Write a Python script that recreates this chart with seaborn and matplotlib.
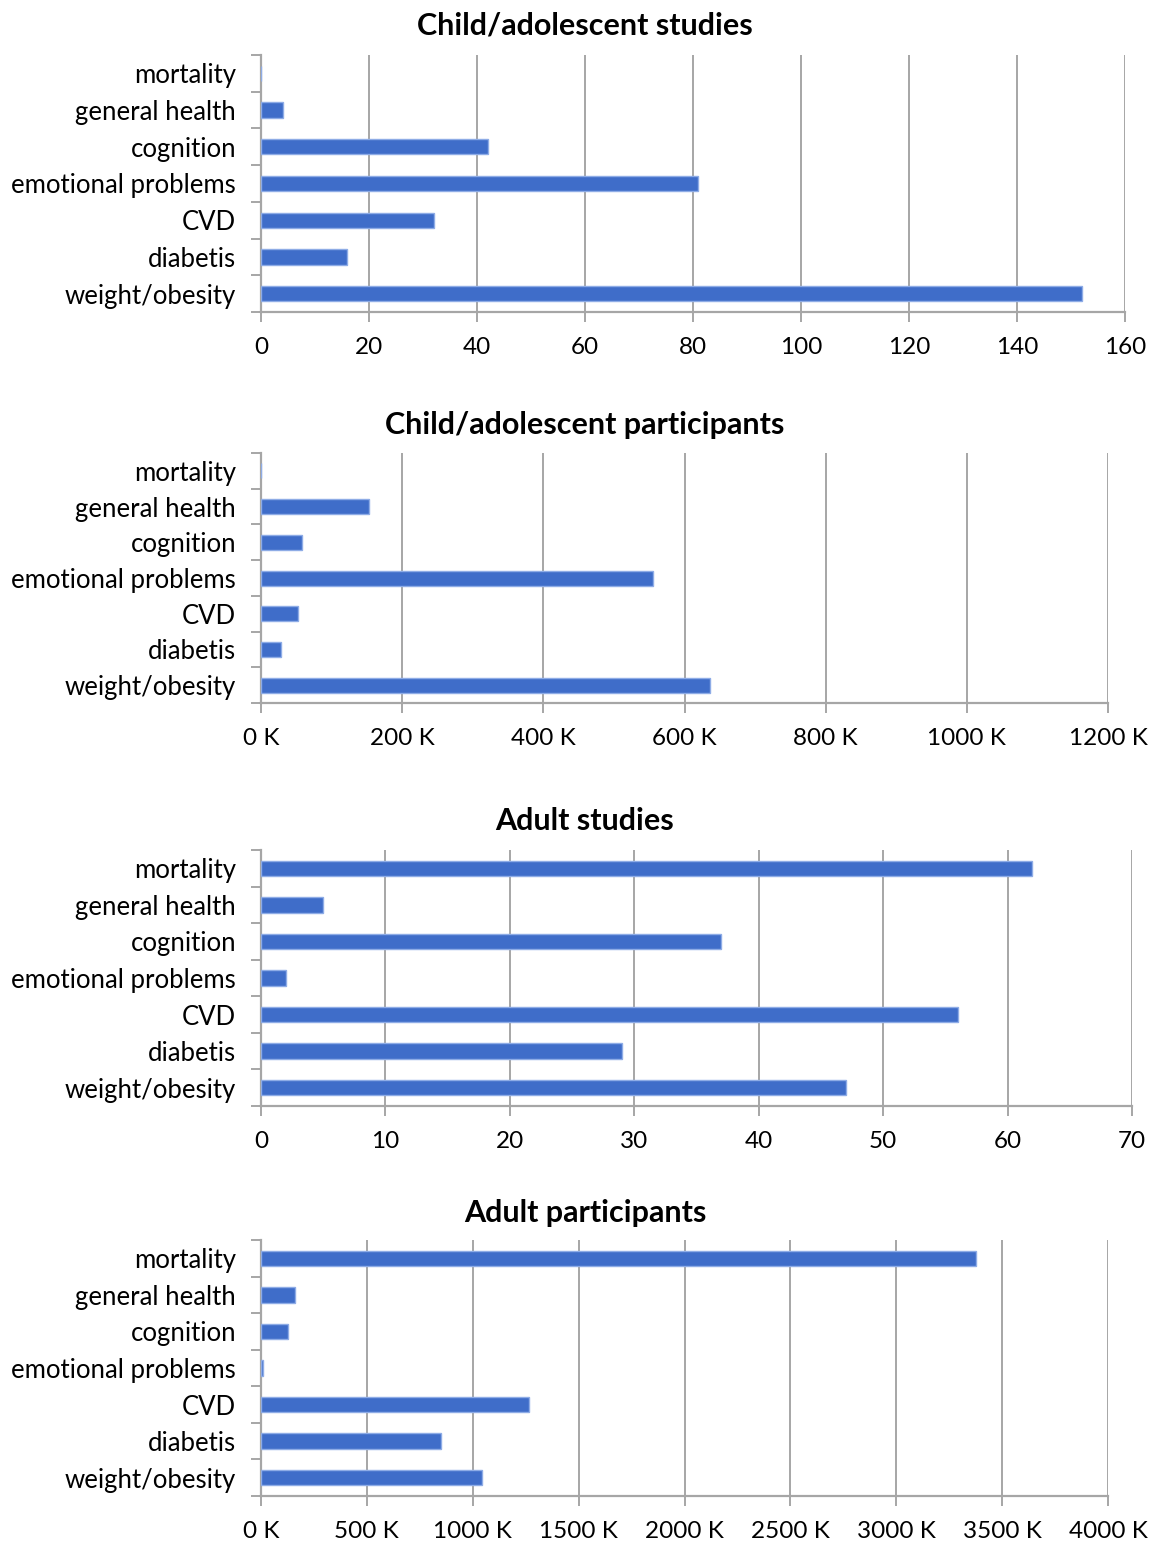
import matplotlib
matplotlib.use("Agg")
import matplotlib.pyplot as plt
from matplotlib.ticker import FuncFormatter, FixedLocator
import seaborn as sns
import pandas as pd

sns.set_theme(style="white")
plt.rcParams["font.family"] = ["Lato", "DejaVu Sans"]

categories = ["mortality", "general health", "cognition", "emotional problems",
              "CVD", "diabetis", "weight/obesity"]

child_studies = [0, 4, 42, 81, 32, 16, 152]
child_participants_k = [0, 153, 58, 555, 52, 28, 636]
adult_studies = [62, 5, 37, 2, 56, 29, 47]
adult_participants_k = [3376, 162, 127, 8, 1264, 850, 1042]

panels = [
    ("Child/adolescent studies", child_studies, 160, 20, False,
     (261, 55, 1125, 312), 25),
    ("Child/adolescent participants", child_participants_k, 1200, 200, True,
     (261, 453, 1108, 703), 425),
    ("Adult studies", adult_studies, 70, 10, False,
     (261, 850, 1132, 1106), 821),
    ("Adult participants", adult_participants_k, 4000, 500, True,
     (261, 1240, 1108, 1496), 1213),
]

W, H = 1153, 1543
fig = plt.figure(figsize=(W / 100, H / 100), dpi=100)

grid_col = "#A6A6A6"
bar_col = "#3F6DC9"
edge_col = "#8EACE6"

for title, values, xmax, step, in_k, (x0, y0, x1, y1), ty in panels:
    ax = fig.add_axes([x0 / W, 1 - y1 / H, (x1 - x0) / W, (y1 - y0) / H])
    df = pd.DataFrame({"category": categories, "value": values})
    sns.barplot(data=df, x="value", y="category", order=categories, orient="h",
                color=bar_col, saturation=1, width=0.42, ax=ax,
                edgecolor=edge_col, linewidth=1.0, zorder=3)
    ax.set_xlim(0, xmax)
    ax.set_ylim(len(categories) - 0.5, -0.5)
    ticks = list(range(0, xmax + 1, step))
    ax.xaxis.set_major_locator(FixedLocator(ticks))
    if in_k:
        ax.xaxis.set_major_formatter(FuncFormatter(lambda v, p: f"{v:.0f} K"))
    else:
        ax.xaxis.set_major_formatter(FuncFormatter(lambda v, p: f"{v:.0f}"))
    for t in ticks[1:]:
        ax.axvline(t, color=grid_col, lw=1.4, zorder=1)
    ax.set_xlabel("")
    ax.set_ylabel("")
    for s in ["top", "right"]:
        ax.spines[s].set_visible(False)
    for s in ["left", "bottom"]:
        ax.spines[s].set_color(grid_col)
        ax.spines[s].set_linewidth(1.6)
    ax.set_yticks([i - 0.5 for i in range(len(categories) + 1)], minor=True)
    ax.tick_params(axis="y", which="minor", length=7, width=1.4,
                   color=grid_col, left=True)
    ax.tick_params(axis="y", which="major", length=0, pad=18,
                   labelsize=18.5, labelcolor="black")
    ax.tick_params(axis="x", which="major", length=7, width=1.4,
                   color=grid_col, bottom=True, pad=11,
                   labelsize=17.5, labelcolor="black")
    fig.text(585 / W, 1 - ty / H, title, ha="center", va="center",
             fontsize=22, fontweight="bold", color="black")

fig.savefig("out.png", dpi=100, facecolor="white")
